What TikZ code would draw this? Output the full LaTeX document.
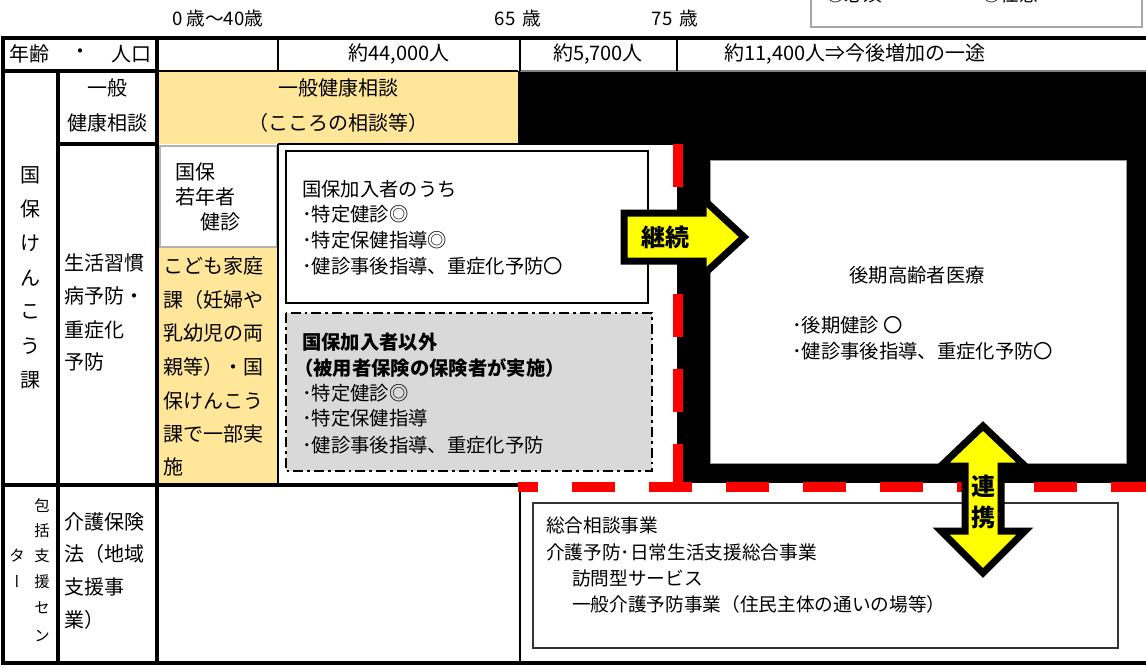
\documentclass[tikz,border=0pt]{standalone}
\usepackage{fontspec}
\setmainfont{Noto Sans CJK JP}
\newfontfamily\vertfont[RawFeature=+vert]{Noto Sans CJK JP}
\definecolor{cellyellow}{HTML}{FFE699}
\definecolor{boxgray}{HTML}{D9D9D9}
\definecolor{arrowyellow}{HTML}{FFFF00}
\definecolor{dashred}{HTML}{FF0000}
\begin{document}
\begin{tikzpicture}[x=0.75pt,y=-0.75pt,
  every node/.style={inner sep=0pt,outer sep=0pt},
  lab/.style={font=\fontsize{15}{18}\selectfont},
  labw/.style={lab,anchor=west},
  small/.style={font=\fontsize{11.5}{14}\selectfont},
  bx/.style={font=\fontsize{14.5}{17}\selectfont,anchor=west},
  bxb/.style={anchor=west,font=\fontsize{14.5}{17}\selectfont\bfseries},
  sx/.style={font=\fontsize{14}{17}\selectfont,anchor=west},
  age/.style={font=\fontsize{14}{16}\selectfont},
  thickrule/.style={line width=2.4pt,line cap=rect},
  midrule/.style={line width=1.5pt},
  thinrule/.style={line width=0.9pt},
  blockarrow/.style={fill=arrowyellow,draw=black,line width=5.25pt,line join=miter,miter limit=10},
  arrowtext/.style={font=\fontsize{18}{20}\selectfont\bfseries},
  reddash/.style={draw=dashred,line width=7.5pt}
]
\useasboundingbox (0,0) rectangle (1146,668);
\begin{scope}
\clip (0,0) rectangle (1146,668);

% legend box (cut off at top, as in the reference)
\draw[draw=black!35,line width=1pt,fill=white] (811,-40) rectangle (1142,27);
\node[sx] (legA) at (826,-6) {◎必須};
\node[sx] (legB) at (982,-6) {○任意};

% fills
\fill[cellyellow] (157,71) rectangle (520,144);
\fill[black] (518,71) rectangle (1146,144);
\fill[black] (677,144) rectangle (1146,483);
\filldraw[fill=white,draw=black!40,line width=0.75pt] (710,160) rectangle (1126,463);
\fill[cellyellow] (157,247) rectangle (278,485);
\filldraw[fill=white,draw=black!30,line width=1pt] (160,146) rectangle (277,247);

% table rules
\draw[thickrule] (3,38) -- (1146,38);
\draw[thickrule] (3,38) -- (3,663) -- (1146,663);
\draw[thickrule] (157,38) -- (157,663);
\draw[thickrule] (3,71) -- (157,71);
\draw[midrule] (157,71) -- (518,71);
\draw[thinrule,black!50] (520,71) -- (1146,71);
\draw[midrule] (278,38) -- (278,71);
\draw[midrule] (520,38) -- (520,71);
\draw[midrule] (677,38) -- (677,71);
\draw[thickrule] (58,71) -- (58,663);
\draw[thickrule] (58,144) -- (157,144);
\draw[midrule] (278,144) -- (677,144);
\draw[midrule] (278,144) -- (278,485);
\draw[thickrule] (3,485) -- (518,485);
\draw[thinrule] (520,490) -- (520,663);

% boxes in row 3
\draw[line width=1.5pt,fill=white] (286,151) rectangle (648,303);
\draw[line width=1.5pt,fill=boxgray,dash pattern=on 7.5pt off 3pt on 2pt off 3pt] (286,313) rectangle (652,471);

% red dashed boundary
\draw[reddash,dash pattern=on 32.25pt off 24pt] (678,144) -- (678,490);
\draw[reddash,dash pattern=on 32.25pt off 25.5pt,dash phase=17.25pt] (518,487) -- (1146,487);

% community box
\draw[thinrule,draw=black!80,fill=white] (533,503) rectangle (1118,648);

% block arrows
\draw[blockarrow] (624,213) -- (703,213) -- (703,199) -- (744,237) -- (703,275) -- (703,261) -- (624,261) -- cycle;
\draw[blockarrow] (983,426) -- (1025,466) -- (1001,466) -- (1001,531) -- (1025,531) -- (983,573) -- (941,531) -- (965,531) -- (965,466) -- (941,466) -- cycle;
\node[arrowtext] (keizoku) at (665,237) {継続};
\node[arrowtext] (ren) at (983,486) {連};
\node[arrowtext] (kei) at (983,517) {携};

% ages
\node[age] (a0) at (218,18) {0\,歳～40歳};
\node[age] (a65) at (518,18) {65\ \,歳};
\node[age] (a75) at (675,18) {75\ \,歳};

% row 1
\node[labw] (nenrei) at (9,54) {年齢};
\node[lab] (nakaguro) at (80,54) {・};
\node[lab,anchor=east] (jinko) at (151,54) {人口};
\node[lab] (p44) at (399,54) {約44,000人};
\node[lab] (p57) at (598,54) {約5,700人};
\node[lab] (p114) at (855,54) {約11,400人⇒今後増加の一途};

% row 2
\node[lab] (ip1) at (107,88) {一般};
\node[lab] (ip2) at (107,123) {健康相談};
\node[lab] (so1) at (338,88) {一般健康相談};
\node[lab] (so2) at (338,123) {（こころの相談等）};

% row 3 left vertical label
\node[lab] (v1) at (30,175) {国};
\node[lab] (v2) at (30,209) {保};
\node[lab] (v3) at (30,243) {け};
\node[lab] (v4) at (30,278) {ん};
\node[lab] (v5) at (30,312) {こ};
\node[lab] (v6) at (30,346) {う};
\node[lab] (v7) at (30,380) {課};

\node[labw] (s1) at (64,263) {生活習慣};
\node[labw] (s2) at (64,296) {病予防・};
\node[labw] (s3) at (64,330) {重症化};
\node[labw] (s4) at (64,362) {予防};

\node[labw] (w1) at (175,172) {国保};
\node[labw] (w2) at (175,197) {若年者};
\node[labw] (w3) at (200,222) {健診};

\node[labw] (y1) at (163,266) {こども家庭};
\node[labw] (y2) at (163,300) {課（妊婦や};
\node[labw] (y3) at (163,333) {乳幼児の両};
\node[labw] (y4) at (163,367) {親等）・国};
\node[labw] (y5) at (163,401) {保けんこう};
\node[labw] (y6) at (163,434) {課で一部実};
\node[labw] (y7) at (163,467) {施};

\node[bx] (b1) at (302,189) {国保加入者のうち};
\node[bx] (b2) at (302,214) {･特定健診◎};
\node[bx] (b3) at (302,240) {･特定保健指導◎};
\node[bx] (b4) at (302,266) {･健診事後指導、重症化予防〇};

\node[bxb] (g1) at (302,342) {国保加入者以外};
\node[bxb] (g2) at (294,368) {（被用者保険の保険者が実施）};
\node[bx] (g3) at (302,393) {･特定健診◎};
\node[bx] (g4) at (302,418) {･特定保健指導};
\node[bx] (g5) at (302,445) {･健診事後指導、重症化予防};

\node[bx,anchor=center] (k0) at (917,275) {後期高齢者医療};
\node[bx] (k1) at (792,325) {･後期健診 〇};
\node[bx] (k2) at (792,351) {･健診事後指導、重症化予防〇};

% row 4
\node[small] (h1) at (42,506) {包};
\node[small] (h2) at (42,531) {括};
\node[small] (h3) at (42,556) {支};
\node[small] (h4) at (42,582) {援};
\node[small] (h5) at (42,608) {セ};
\node[small] (h6) at (42,636) {ン};
\node[small] (h7) at (17,556) {タ};
\node[small,font=\fontsize{11.5}{14}\vertfont] (h8) at (17,582) {ー};

\node[labw] (c1) at (64,522) {介護保険};
\node[labw] (c2) at (64,554) {法（地域};
\node[labw] (c3) at (64,587) {支援事};
\node[labw] (c4) at (64,620) {業）};

\node[sx] (t1) at (546,525) {総合相談事業};
\node[sx] (t2) at (546,552) {介護予防･日常生活支援総合事業};
\node[sx] (t3) at (572,578) {訪問型サービス};
\node[sx] (t4) at (572,604) {一般介護予防事業（住民主体の通いの場等）};
\end{scope}
\end{tikzpicture}
\end{document}
